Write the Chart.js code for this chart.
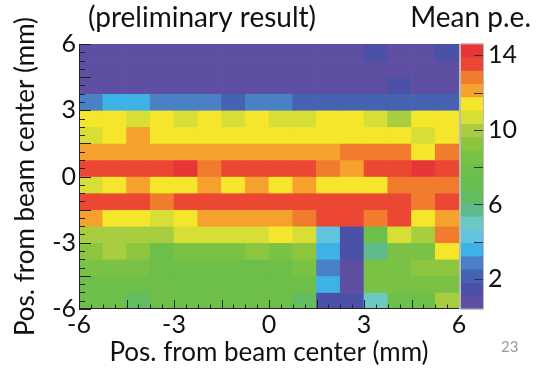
<!DOCTYPE html>
<html>
<head>
<meta charset="utf-8">
<script src="https://cdn.jsdelivr.net/npm/chart.js@4.4.1/dist/chart.umd.min.js"></script>
<style>
  html, body { margin: 0; padding: 0; background: #fff; }
  #wrap { position: relative; width: 539px; height: 368px; }
</style>
</head>
<body>
<div id="wrap"><canvas id="peMap" width="539" height="368"></canvas></div>
<script>
// bin edges in mm
const xEdges = [-6, -5.25, -4.5, -3.75, -3, -2.25, -1.5, -0.75, 0, 0.75, 1.5, 2.25, 3, 3.75, 4.5, 5.25, 6];
// top row first
const yEdges = [6, 5.25, 4.5, 3.75, 3, 2.25, 1.5, 0.75, 0, -0.75, -1.5, -2.25, -3, -3.75, -4.5, -5.25, -6];

// mean p.e. per cell, rows from top (y = 6) to bottom (y = -6), columns from x = -6 to 6
const peRows = [
  [0.8, 0.8, 0.8, 0.8, 0.8, 0.8, 0.8, 0.8, 0.8, 0.8, 0.8, 0.8, 1.5, 0.8, 0.8, 1.5],
  [0.8, 0.8, 0.8, 0.8, 0.8, 0.8, 0.8, 0.8, 0.8, 0.8, 0.8, 0.8, 0.8, 0.8, 0.8, 0.8],
  [0.8, 0.8, 0.8, 0.8, 0.8, 0.8, 0.8, 0.8, 0.8, 0.8, 0.8, 0.8, 0.8, 1.5, 0.8, 0.8],
  [2.9, 3.6, 3.6, 2.9, 2.9, 2.9, 2.2, 2.9, 2.9, 2.2, 2.2, 2.2, 2.2, 2.2, 2.2, 2.2],
  [11.4, 11.4, 10.7, 11.4, 10.7, 11.4, 10.7, 11.4, 10.7, 10.7, 11.4, 11.4, 10.7, 10.0, 11.4, 11.4],
  [10.7, 11.4, 12.1, 11.4, 11.4, 11.4, 11.4, 11.4, 11.4, 11.4, 11.4, 11.4, 11.4, 11.4, 10.7, 11.4],
  [12.1, 12.1, 12.1, 12.1, 12.1, 12.1, 12.1, 12.1, 12.1, 12.1, 12.1, 12.8, 12.8, 12.8, 11.4, 12.8],
  [13.5, 13.5, 13.5, 13.5, 14.2, 12.8, 13.5, 13.5, 13.5, 13.5, 12.8, 12.1, 13.5, 13.5, 14.2, 13.5],
  [10.7, 11.4, 12.1, 11.4, 11.4, 12.1, 11.4, 12.1, 11.4, 12.1, 11.4, 11.4, 11.4, 12.8, 12.8, 12.8],
  [13.5, 13.5, 13.5, 12.8, 13.5, 13.5, 13.5, 13.5, 13.5, 13.5, 13.5, 13.5, 13.5, 13.5, 12.8, 13.5],
  [12.1, 11.4, 11.4, 10.7, 11.4, 12.1, 12.1, 12.1, 12.1, 12.8, 13.5, 13.5, 12.8, 13.5, 11.4, 12.1],
  [10.0, 10.0, 10.0, 10.0, 10.7, 10.7, 10.7, 10.7, 11.4, 10.7, 4.3, 1.5, 7.9, 10.7, 10.0, 12.8],
  [9.3, 10.0, 9.3, 7.9, 8.6, 8.6, 8.6, 9.3, 8.6, 9.3, 3.6, 1.5, 5.7, 8.6, 8.6, 11.4],
  [8.6, 8.6, 8.6, 7.9, 7.9, 7.9, 7.9, 7.9, 7.9, 8.6, 2.9, 0.8, 8.6, 8.6, 9.3, 9.3],
  [7.9, 7.9, 7.9, 7.9, 7.9, 7.9, 7.9, 7.9, 7.9, 7.9, 3.6, 0.8, 8.6, 8.6, 8.6, 8.6],
  [7.9, 7.9, 6.4, 7.9, 7.9, 7.9, 7.9, 7.9, 7.9, 6.4, 1.5, 1.5, 5.0, 7.9, 7.9, 10.0]
];

const xTickValues = [-6, -3, 0, 3, 6];
const yTickValues = [-6, -3, 0, 3, 6];
const zTickValues = [2, 6, 10, 14];
const zRange = [0.4, 14.6];

// 20-step palette, low to high
const palette = [
  '#5e4fa2', '#4a51a7', '#4563b2', '#4a80c6', '#3eb2e6',
  '#60c4df', '#6cc8c3', '#5fba8c', '#63bc60', '#69be4f',
  '#6dbf49', '#79c245', '#8cc63f', '#a8cd40', '#d7df37',
  '#f5e62b', '#f6a12d', '#f17c2d', '#ec4733', '#e8353a'
];

const FONT = 'Lato, "Open Sans", sans-serif';
const zStep = (zRange[1] - zRange[0]) / palette.length;
const colorbarX = 6.41; // centre of the colour bar, in x-axis units (right of the frame)

function colorFor(v) {
  let i = Math.floor((v - zRange[0]) / zStep);
  i = Math.max(0, Math.min(palette.length - 1, i));
  return palette[i];
}

const cellSets = peRows.map(function(row, r) {
  return {
    type: 'bar',
    xAxisID: 'x',
    yAxisID: 'y',
    data: row.map(function(v, c) {
      return { x: (xEdges[c] + xEdges[c + 1]) / 2, y: [yEdges[r + 1], yEdges[r]] };
    }),
    backgroundColor: row.map(colorFor),
    borderWidth: 0,
    grouped: false,
    barPercentage: 1,
    categoryPercentage: 1
  };
});

const colorbarSet = {
  type: 'bar',
  xAxisID: 'xc',
  yAxisID: 'z',
  data: palette.map(function(c, i) {
    return { x: colorbarX, y: [zRange[0] + i * zStep, zRange[0] + (i + 1) * zStep] };
  }),
  backgroundColor: palette,
  borderWidth: 0,
  grouped: false,
  barPercentage: 1,
  categoryPercentage: 1,
  maxBarThickness: 22,
  clip: false
};

function setTicks(values) {
  return function(axis) {
    axis.ticks = values.map(function(v) { return { value: v }; });
  };
}

// inside tick marks, frame and extra texts
const framePlugin = {
  id: 'frameTicks',
  afterDatasetsDraw(chart) {
    const ctx = chart.ctx;
    const a = chart.chartArea;
    const x = chart.scales.x, y = chart.scales.y, z = chart.scales.z;
    ctx.save();
    ctx.strokeStyle = '#222';
    ctx.lineWidth = 1;
    ctx.beginPath();
    for (let k = 0; k <= 32; k++) {
      const v = -6 + k * 0.375;
      const px = Math.round(x.getPixelForValue(v)) + 0.5;
      const len = k % 4 === 0 ? 9 : 4.5;
      ctx.moveTo(px, a.bottom);
      ctx.lineTo(px, a.bottom - len);
      const py = Math.round(y.getPixelForValue(v)) + 0.5;
      const lenY = k % 4 === 0 ? 12 : 6;
      ctx.moveTo(a.left, py);
      ctx.lineTo(a.left + lenY, py);
    }
    ctx.stroke();

    // axis lines
    ctx.beginPath();
    ctx.moveTo(a.left + 0.5, a.top);
    ctx.lineTo(a.left + 0.5, a.bottom);
    ctx.moveTo(a.left, a.bottom - 0.5);
    ctx.lineTo(a.right, a.bottom - 0.5);
    ctx.stroke();

    // colour bar outline + ticks
    const bars = chart.getDatasetMeta(chart.data.datasets.length - 1).data;
    const cbL = bars[0].x - bars[0].width / 2;
    const cbR = bars[0].x + bars[0].width / 2;
    ctx.strokeStyle = '#bbb';
    ctx.strokeRect(Math.round(cbL) - 0.5, z.top, Math.round(cbR - cbL) + 1, z.bottom - z.top);
    ctx.beginPath();
    ctx.moveTo(a.right + 0.5, a.top);
    ctx.lineTo(a.right + 0.5, a.bottom);
    ctx.stroke();
    ctx.strokeStyle = '#333';
    ctx.beginPath();
    for (let v = 2; v <= 14; v += 2) {
      const py = Math.round(z.getPixelForValue(v)) + 0.5;
      ctx.moveTo(cbR - 9, py);
      ctx.lineTo(cbR, py);
    }
    ctx.stroke();

    ctx.fillStyle = '#111';
    ctx.font = '28px ' + FONT;
    ctx.textBaseline = 'alphabetic';
    ctx.textAlign = 'left';
    ctx.fillText('(preliminary result)', 88, 27);
    ctx.textAlign = 'right';
    ctx.fillText('Mean p.e.', 531, 27);
    ctx.fillStyle = '#9a9a9a';
    ctx.font = '15px ' + FONT;
    ctx.textAlign = 'left';
    ctx.fillText('23', 501, 352);
    ctx.restore();
  }
};

const tickFont = { family: FONT, size: 25 };
const titleFont = { family: FONT, size: 26 };

new Chart(document.getElementById('peMap'), {
  type: 'bar',
  data: { datasets: cellSets.concat([colorbarSet]) },
  options: {
    responsive: false,
    animation: false,
    events: [],
    layout: { padding: { top: 37, left: 0, right: 0, bottom: 0 } },
    plugins: { legend: { display: false }, tooltip: { enabled: false }, title: { display: false } },
    scales: {
      x: {
        type: 'linear',
        position: 'bottom',
        offset: false,
        min: -6,
        max: 6,
        afterBuildTicks: setTicks(xTickValues),
        afterFit: function(axis) { axis.height = 59; },
        grid: { display: false, drawTicks: false, offset: false },
        border: { display: false },
        ticks: { color: '#111', font: tickFont, padding: 1, maxRotation: 0 },
        title: { display: true, text: 'Pos. from beam center (mm)', color: '#111', font: titleFont, padding: { top: -2, bottom: 0 } }
      },
      xc: {
        type: 'linear',
        display: false,
        offset: false,
        min: -6,
        max: 6
      },
      y: {
        type: 'linear',
        position: 'left',
        min: -6,
        max: 6,
        afterBuildTicks: setTicks(yTickValues),
        afterFit: function(axis) { axis.width = 79; },
        grid: { display: false, drawTicks: false },
        border: { display: false },
        ticks: { color: '#111', font: tickFont, padding: 3 },
        title: { display: true, text: 'Pos. from beam center (mm)', color: '#111', font: titleFont, padding: { top: 10, bottom: 0 } }
      },
      z: {
        type: 'linear',
        position: 'right',
        min: zRange[0],
        max: zRange[1],
        afterBuildTicks: setTicks(zTickValues),
        afterFit: function(axis) { axis.width = 80; },
        grid: { display: false, drawTicks: false },
        border: { display: false },
        ticks: { color: '#111', font: tickFont, padding: 29 }
      }
    }
  },
  plugins: [framePlugin]
});
</script>
</body>
</html>
